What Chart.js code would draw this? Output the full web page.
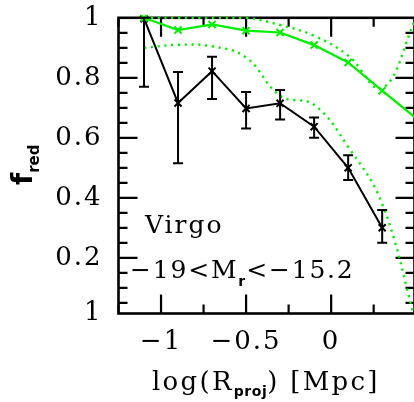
<!DOCTYPE html>
<html lang="en">
  <head>
    <meta charset="UTF-8" />
    <title>Red fraction vs projected radius</title>
    <script src="https://cdn.jsdelivr.net/npm/chart.js@4.4.0/dist/chart.umd.min.js"></script>
    <style>
      html, body { margin: 0; padding: 0; background: #fff; }
    </style>
  </head>
  <body>
    <canvas id="myChart" width="414" height="402"></canvas>

    <script>
      // values
      const logR = [-1.1, -0.9, -0.7, -0.5, -0.3, -0.1, 0.1, 0.3];
      const fRed = [0.997, 0.716, 0.822, 0.698, 0.715, 0.637, 0.50, 0.30];
      const fRedLow = [0.77, 0.515, 0.729, 0.631, 0.661, 0.60, 0.459, 0.25];
      const fRedHigh = [1.0, 0.819, 0.87, 0.753, 0.759, 0.668, 0.542, 0.359];

      const logRModel = [-1.1, -0.9, -0.7, -0.5, -0.3, -0.1, 0.1, 0.3, 0.5];
      const fModel = [1.0, 0.959, 0.978, 0.957, 0.951, 0.909, 0.851, 0.757, 0.665];
      const fModelUpper = [1.0, 1.0, 1.0, 1.0, 0.976, 0.94, 0.874, 0.765, 1.0];
      const fModelLower = [0.90, 0.91, 0.905, 0.868, 0.74, 0.71, 0.57, 0.38, -0.02];

      const xTickValues = [-1, -0.5, 0];
      const xTickLabels = ['\u22121', '\u22120.5', '0'];
      const yTickValues = [0.0143, 0.2, 0.4, 0.6, 0.8, 1];
      const yTickLabels = ['1', '0.2', '0.4', '0.6', '0.8', '1'];

      const GREEN = '#00f000';
      const SERIF = '"DejaVu Serif", serif';
      const PLOT_RIGHT = 414.5;
      const CLIP = { left: 0, top: 3, right: 0, bottom: 0 };

      function pts(xs, ys) {
        return xs.map((x, i) => ({ x: x, y: ys[i] }));
      }

      // write a line of text made of pieces (for subscripts)
      function drawPieces(ctx, parts, x, y) {
        parts.forEach(p => {
          ctx.font = p.font;
          ctx.letterSpacing = p.ls || '0px';
          ctx.fillText(p.text, x, y + (p.dy || 0));
          x += ctx.measureText(p.text).width;
        });
        ctx.letterSpacing = '0px';
      }

      // stretch the plot box out to the right edge of the canvas
      const stretch = {
        id: 'stretch',
        afterLayout(chart) {
          const xs = chart.scales.x;
          chart.chartArea.right = PLOT_RIGHT;
          chart.chartArea.width = PLOT_RIGHT - chart.chartArea.left;
          xs.right = PLOT_RIGHT;
          xs.width = PLOT_RIGHT - xs.left;
          xs.configure();
        }
      };

      // the original lettering is wide, so space the tick labels out
      const spacing = {
        id: 'spacing',
        beforeDraw(chart) { chart.ctx.letterSpacing = '2px'; },
        afterDatasetsDraw(chart) { chart.ctx.letterSpacing = '0px'; }
      };

      // box and inward ticks on all four sides, under the data
      const frame = {
        id: 'frame',
        beforeDatasetsDraw(chart) {
          const { ctx, chartArea: a, scales } = chart;
          const xs = scales.x, ys = scales.y;
          ctx.save();
          ctx.strokeStyle = '#000';
          ctx.lineWidth = 2.6;
          ctx.strokeRect(a.left, a.top, a.right - a.left, a.bottom - a.top);

          ctx.lineWidth = 2.2;
          ctx.beginPath();
          for (let k = -5; k <= 2; k++) {
            const v = k * 0.25;
            if (v < xs.min || v > xs.max) continue;
            const px = xs.getPixelForValue(v);
            const len = k % 2 === 0 ? 19 : 9;
            ctx.moveTo(px, a.bottom); ctx.lineTo(px, a.bottom - len);
            ctx.moveTo(px, a.top); ctx.lineTo(px, a.top + len);
          }
          for (let k = 1; k < 20; k++) {
            const v = k * 0.05;
            if (v < ys.min) continue;
            const py = ys.getPixelForValue(v);
            const len = k % 4 === 0 ? 19 : 9;
            ctx.moveTo(a.left, py); ctx.lineTo(a.left + len, py);
            ctx.moveTo(a.right, py); ctx.lineTo(a.right - len, py);
          }
          ctx.stroke();
          ctx.restore();
        }
      };

      const errorBars = {
        id: 'errorBars',
        afterDatasetsDraw(chart) {
          const { ctx, chartArea, scales } = chart;
          ctx.save();
          ctx.beginPath();
          ctx.rect(chartArea.left, chartArea.top - 3, chartArea.width, chartArea.height + 3);
          ctx.clip();
          ctx.strokeStyle = '#000';
          ctx.lineWidth = 2;
          logR.forEach((v, i) => {
            const x = scales.x.getPixelForValue(v);
            const lo = scales.y.getPixelForValue(fRedLow[i]);
            const hi = scales.y.getPixelForValue(fRedHigh[i]);
            ctx.beginPath();
            ctx.moveTo(x, lo); ctx.lineTo(x, hi);
            ctx.moveTo(x - 5, lo); ctx.lineTo(x + 5, lo);
            ctx.moveTo(x - 5, hi); ctx.lineTo(x + 5, hi);
            ctx.stroke();
          });
          ctx.restore();
        }
      };

      // axis titles and the sample note
      const labels = {
        id: 'labels',
        afterDraw(chart) {
          const ctx = chart.ctx;
          ctx.save();
          ctx.fillStyle = '#000';
          ctx.textBaseline = 'alphabetic';
          ctx.textAlign = 'left';

          drawPieces(ctx, [
            { text: 'log(R', font: '26px ' + SERIF, ls: '2.3px' },
            { text: 'proj', font: 'bold 14px "DejaVu Sans"', dy: 6, ls: '0.5px' },
            { text: ') [Mpc]', font: '26px ' + SERIF, ls: '2.3px' }
          ], 152, 390);

          ctx.save();
          ctx.translate(32, 185);
          ctx.rotate(-Math.PI / 2);
          drawPieces(ctx, [
            { text: 'f', font: 'bold 28px "DejaVu Sans"' },
            { text: 'red', font: 'bold 15px "DejaVu Sans"', dy: 7 }
          ], 0, 0);
          ctx.restore();

          drawPieces(ctx, [{ text: 'Virgo', font: '25px ' + SERIF, ls: '2px' }], 145, 233);
          drawPieces(ctx, [
            { text: '\u221219<M', font: '25px ' + SERIF, ls: '1.8px' },
            { text: 'r', font: 'bold 14px "DejaVu Sans"', dy: 8, ls: '1px' },
            { text: '<\u221215.2', font: '25px ' + SERIF, ls: '1.8px' }
          ], 130, 278);
          ctx.restore();
        }
      };

      const ctx = document.getElementById('myChart').getContext('2d');
      const myChart = new Chart(ctx, {
        type: 'line',
        data: {
          datasets: [
            {
              label: 'upper',
              data: pts(logRModel, fModelUpper),
              borderColor: GREEN,
              borderWidth: 2.4,
              borderDash: [2.2, 4.6],
              pointRadius: 0,
              tension: 0.4,
              clip: CLIP,
              fill: false
            },
            {
              label: 'lower',
              data: pts(logRModel, fModelLower),
              borderColor: GREEN,
              borderWidth: 2.4,
              borderDash: [2.2, 4.6],
              pointRadius: 0,
              tension: 0.4,
              clip: CLIP,
              fill: false
            },
            {
              label: 'model',
              data: pts(logRModel, fModel),
              borderColor: GREEN,
              backgroundColor: GREEN,
              borderWidth: 2.2,
              pointStyle: 'crossRot',
              pointRadius: [5, 5, 5, 5, 5, 5, 5, 5, 0],
              pointBorderWidth: 2,
              tension: 0,
              clip: CLIP,
              fill: false
            },
            {
              label: 'Virgo',
              data: pts(logR, fRed),
              borderColor: '#000',
              backgroundColor: '#000',
              borderWidth: 2,
              pointStyle: 'crossRot',
              pointRadius: 5,
              pointBorderWidth: 2,
              tension: 0,
              clip: CLIP,
              fill: false
            }
          ]
        },
        options: {
          responsive: false,
          animation: false,
          layout: { padding: { top: 17.8, right: 0, left: 0, bottom: 0 } },
          plugins: {
            legend: { display: false },
            tooltip: { enabled: false }
          },
          scales: {
            x: {
              type: 'linear',
              min: -1.25,
              max: 0.49,
              afterBuildTicks: s => { s.ticks = xTickValues.map(v => ({ value: v })); },
              afterFit: s => {
                s.height = 88.5;
                s.paddingLeft = 0;
                s.paddingRight = 0;
              },
              grid: { display: false, drawTicks: false },
              border: { display: false },
              ticks: {
                callback: (v, i) => xTickLabels[i],
                font: { family: SERIF, size: 26 },
                color: '#000',
                padding: 13,
                maxRotation: 0,
                autoSkip: false
              }
            },
            y: {
              min: 0.0143,
              max: 1,
              afterBuildTicks: s => { s.ticks = yTickValues.map(v => ({ value: v })); },
              afterFit: s => {
                s.width = 118.5;
                s.paddingTop = 0;
                s.paddingBottom = 0;
              },
              grid: { display: false, drawTicks: false },
              border: { display: false },
              ticks: {
                callback: (v, i) => yTickLabels[i],
                font: { family: SERIF, size: 26 },
                color: '#000',
                padding: 16,
                autoSkip: false
              }
            }
          }
        },
        plugins: [stretch, spacing, frame, errorBars, labels]
      });
    </script>
  </body>
</html>
